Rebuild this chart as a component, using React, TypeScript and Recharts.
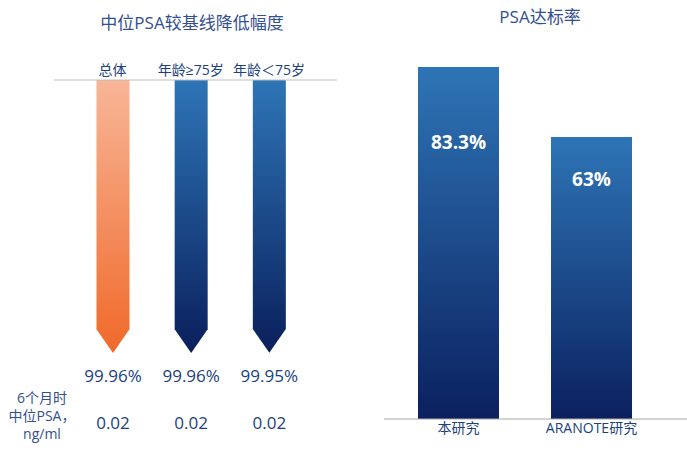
import { BarChart, Bar, XAxis, YAxis, LabelList } from 'recharts';

// left panel: median PSA reduction vs baseline
const groups = ['总体', '年龄≥75岁', '年龄＜75岁'];
const reduction = [99.96, 99.96, 99.95];
const psa6m = ['0.02', '0.02', '0.02'];

// right panel: PSA target attainment
const studies = ['本研究', 'ARANOTE研究'];
const attainment = [83.3, 63];
const RATE_AXIS_MIN = -18.8;
const RATE_AXIS_MAX = 91.1;

const FONT = '"Open Sans", "Noto Sans CJK SC", sans-serif';
const TEXT = '#203f7c';
const TITLE = '#34508f';

const leftData = groups.map((name, i) => ({
  name,
  reduction: reduction[i],
  psa: psa6m[i],
  fill: i === 0 ? 'url(#gradOrange)' : 'url(#gradBlue)',
}));

const rightData = studies.map((name, i) => ({ name, rate: attainment[i] }));

const ArrowShape = (props: any) => {
  const { x, y, width, height, fill } = props;
  const top = Math.min(y, y + height);
  const bottom = Math.max(y, y + height);
  const tip = width * 0.72;
  const pts = [
    [x, top],
    [x + width, top],
    [x + width, bottom - tip],
    [x + width / 2, bottom],
    [x, bottom - tip],
  ]
    .map((p) => p.join(','))
    .join(' ');
  return <polygon points={pts} fill={fill} />;
};

const bottomOf = (y: number, height: number) => Math.max(y, y + height);

const PercentLabel = (props: any) => {
  const { x, y, width, height, value } = props;
  return (
    <text
      x={x + width / 2}
      y={bottomOf(y, height) + 23}
      textAnchor="middle"
      dominantBaseline="central"
      fill={TEXT}
      fontSize={17}
      fontFamily={FONT}
    >
      {value.toFixed(2)}%
    </text>
  );
};

const PsaLabel = (props: any) => {
  const { x, y, width, height, value } = props;
  return (
    <text
      x={x + width / 2}
      y={bottomOf(y, height) + 70}
      textAnchor="middle"
      dominantBaseline="central"
      fill={TEXT}
      fontSize={17}
      fontFamily={FONT}
    >
      {value}
    </text>
  );
};

const RateLabel = (props: any) => {
  const { x, y, width, height, value } = props;
  const top = Math.min(y, y + height);
  const h = Math.abs(height);
  return (
    <text
      x={x + width / 2}
      y={top + h * 0.478 - 93}
      textAnchor="middle"
      dominantBaseline="central"
      fill="#fff"
      fontSize={19}
      fontWeight="bold"
      fontFamily={FONT}
    >
      {value}%
    </text>
  );
};

export default function App() {
  const tickStyle = { fill: TEXT, fontSize: 14, fontFamily: FONT };
  return (
    <div style={{ position: 'absolute', left: 0, top: 0, width: 687, height: 450, background: '#fff', fontFamily: FONT }}>
      <div style={{ position: 'absolute', left: 92, width: 200, top: 11, textAlign: 'center', fontSize: 17, color: TITLE, lineHeight: '24px' }}>
        中位PSA较基线降低幅度
      </div>
      <div style={{ position: 'absolute', left: 440, width: 200, top: 5, textAlign: 'center', fontSize: 17, color: TITLE, lineHeight: '24px' }}>
        PSA达标率
      </div>
      <div style={{ position: 'absolute', left: 2, width: 80, top: 389, textAlign: 'center', fontSize: 14, color: TITLE, lineHeight: '18px' }}>
        6个月时
        <br />
        中位PSA，
        <br />
        ng/ml
      </div>

      <div style={{ position: 'absolute', left: 0, top: 0 }}>
        <BarChart width={350} height={450} data={leftData} margin={{ top: 60, right: 13, left: 54, bottom: 97 }}>
          <defs>
            <linearGradient id="gradOrange" x1="0" y1="0" x2="0" y2="1">
              <stop offset="0%" stopColor="#f8b697" />
              <stop offset="100%" stopColor="#f0692a" />
            </linearGradient>
            <linearGradient id="gradBlue" x1="0" y1="0" x2="0" y2="1">
              <stop offset="0%" stopColor="#2e75b6" />
              <stop offset="100%" stopColor="#0a1f5c" />
            </linearGradient>
          </defs>
          <XAxis
            dataKey="name"
            orientation="top"
            height={20}
            padding={{ left: 19.5, right: 29 }}
            axisLine={{ stroke: '#bfbfbf' }}
            tickLine={false}
            tickSize={4}
            tickMargin={1}
            tick={tickStyle}
            interval={0}
          />
          <YAxis hide reversed domain={[0, 100]} type="number" />
          <Bar dataKey="reduction" barSize={33} shape={<ArrowShape />} isAnimationActive={false}>
            <LabelList dataKey="reduction" content={<PercentLabel />} />
            <LabelList dataKey="psa" content={<PsaLabel />} />
          </Bar>
        </BarChart>
      </div>

      <div style={{ position: 'absolute', left: 384, top: 0 }}>
        <BarChart width={303} height={450} data={rightData} margin={{ top: 40, right: 0, left: 0, bottom: 1 }}>
          <defs>
            <linearGradient id="gradBar" x1="0" y1="0" x2="0" y2="1">
              <stop offset="0%" stopColor="#2e75b6" />
              <stop offset="100%" stopColor="#0b205f" />
            </linearGradient>
          </defs>
          <XAxis
            dataKey="name"
            height={30}
            padding={{ left: 8, right: 29 }}
            axisLine={{ stroke: '#a6a6a6' }}
            tickLine={false}
            tickSize={0}
            tickMargin={4}
            tick={tickStyle}
            interval={0}
          />
          <YAxis hide type="number" domain={[RATE_AXIS_MIN, RATE_AXIS_MAX]} />
          <Bar
            dataKey={(d: any) => [RATE_AXIS_MIN, d.rate]}
            barSize={81}
            fill="url(#gradBar)"
            isAnimationActive={false}
          >
            <LabelList dataKey="rate" content={<RateLabel />} />
          </Bar>
        </BarChart>
      </div>
    </div>
  );
}
